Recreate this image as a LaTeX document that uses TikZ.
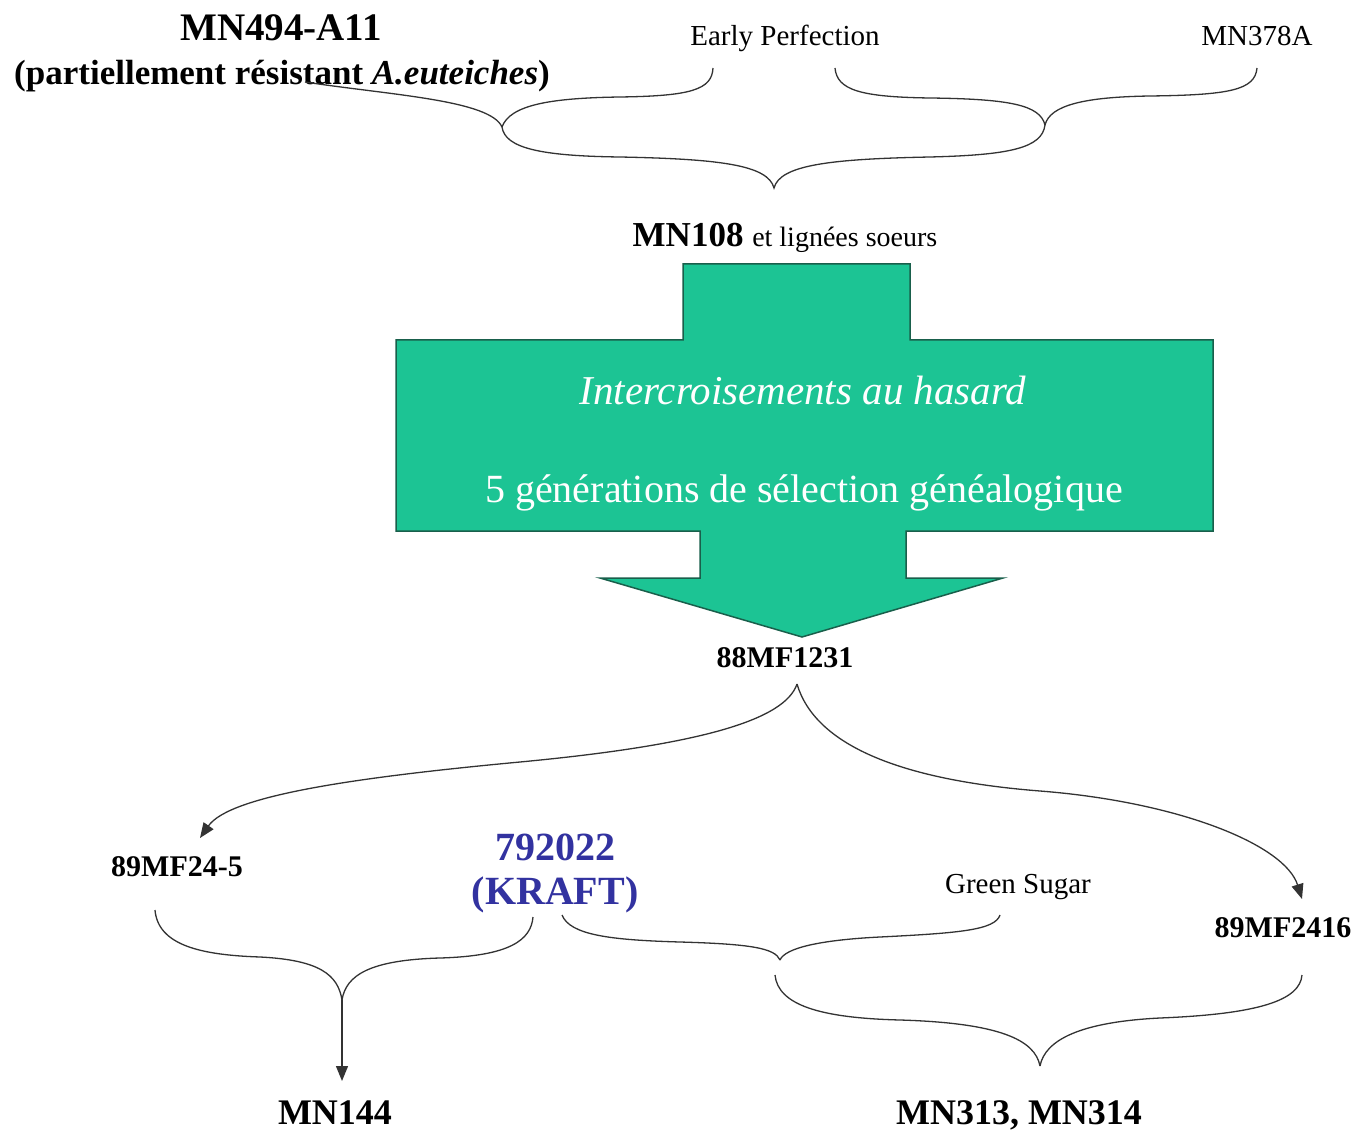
\documentclass[tikz,border=0pt]{standalone}
\usepackage{fontspec}
\setmainfont{Liberation Serif}
\usetikzlibrary{arrows.meta}
\definecolor{arrowgreen}{RGB}{28,196,148}
\definecolor{arrowedge}{RGB}{25,95,75}
\definecolor{kraftblue}{RGB}{50,50,160}
\newcommand{\fsz}[2]{\fontsize{#1}{#2}\selectfont}
\tikzset{
  lbl/.style={inner sep=0pt, anchor=base},
  brace/.style={draw=black!80, line width=1.3pt},
  arr/.style={brace, -{Triangle[length=15pt,width=12pt]}},
  bigarrow/.style={fill=arrowgreen, draw=arrowedge, line width=1.5pt, line join=miter},
}
\begin{document}
\begin{tikzpicture}[x=1pt,y=-1pt]
\useasboundingbox (0,0) rectangle (1358,1131);

% big green arrow
\draw[bigarrow] (683,264) -- (910,264) -- (910,340) -- (1213,340) -- (1213,531)
  -- (906,531) -- (906,578) -- (1003,578) -- (802,637) -- (600,578) -- (700,578)
  -- (700,531) -- (396,531) -- (396,340) -- (683,340) -- cycle;

% labels
\node[lbl, font=\fsz{39}{44}\bfseries] (mn494) at (281,41) {MN494-A11};
\node[lbl, font=\fsz{35}{40}\bfseries] (part) at (282,85) {(partiellement résistant \textit{A.euteiches})};
\node[lbl, font=\fsz{29}{34}] (early) at (785,46) {Early Perfection};
\node[lbl, font=\fsz{29}{34}] (mn378) at (1257,46) {MN378A};
\node[lbl] (mn108) at (785,247) {\fsz{35}{40}\bfseries MN108 \fsz{28}{32}\mdseries et lignées soeurs};
\node[lbl, font=\fsz{41}{46}\itshape, text=white] (inter) at (803,405) {Intercroisements au hasard};
\node[lbl, font=\fsz{40}{46}, text=white] (gen) at (804,502) {5 générations de sélection généalogique};
\node[lbl, font=\fsz{30}{35}\bfseries] (mf1231) at (785,667) {88MF1231};
\node[lbl, font=\fsz{30}{35}\bfseries] (mf245) at (177,876) {89MF24-5};
\node[lbl, font=\fsz{40}{46}\bfseries, text=kraftblue] (k1) at (555,860) {792022};
\node[lbl, font=\fsz{40}{46}\bfseries, text=kraftblue] (k2) at (555,904) {(KRAFT)};
\node[lbl, font=\fsz{29}{34}] (green) at (1018,893) {Green Sugar};
\node[lbl, font=\fsz{30}{35}\bfseries] (mf2416) at (1283,937) {89MF2416};
\node[lbl, font=\fsz{36}{42}\bfseries] (mn144) at (335,1124) {MN144};
\node[lbl, font=\fsz{36}{42}\bfseries] (mn313) at (1019,1124) {MN313, MN314};

% brace coordinates (top)
\coordinate (b1l) at (305,82);
\coordinate (b1t) at (502,127);
\coordinate (b1r) at (713,68);
\coordinate (b2l) at (835,68);
\coordinate (b2t) at (1045,125);
\coordinate (b2r) at (1257,68);
\coordinate (b3t) at (774,188);

\draw[brace] (b1l) .. controls (390,95) and (490,100) .. (b1t);
\draw[brace] (b1t) .. controls (510,105) and (550,98) .. (620,97)
  .. controls (690,96) and (712,90) .. (b1r);
\draw[brace] (b2l) .. controls (837,90) and (860,97) .. (930,98)
  .. controls (1010,99) and (1040,105) .. (b2t);
\draw[brace] (b2t) .. controls (1050,105) and (1085,97) .. (1150,96)
  .. controls (1230,95) and (1255,90) .. (b2r);
\draw[brace] (b1t) .. controls (505,148) and (540,156) .. (620,157)
  .. controls (720,159) and (768,165) .. (b3t)
  .. controls (780,165) and (830,159) .. (930,157)
  .. controls (1010,155) and (1042,148) .. (b2t);

% curved arrows from 88MF1231
\coordinate (c0) at (797,684);
\coordinate (cl) at (200,838);
\coordinate (cr) at (1302,899);
\draw[arr] (c0) .. controls (785,720) and (700,745) .. (520,762)
  .. controls (360,777) and (230,795) .. (cl);
\draw[arr] (c0) .. controls (815,745) and (900,780) .. (1040,791)
  .. controls (1180,802) and (1285,845) .. (cr);

% bottom-left brace
\coordinate (b4l) at (155,910);
\coordinate (b4t) at (342,1000);
\coordinate (b4r) at (533,917);
\coordinate (a4) at (342,1081);
\draw[brace] (b4l) .. controls (158,945) and (200,955) .. (260,957)
  .. controls (320,960) and (338,975) .. (b4t);
\draw[brace] (b4t) .. controls (346,975) and (370,960) .. (440,958)
  .. controls (510,956) and (531,940) .. (b4r);
\draw[arr] (b4t) -- (a4);

% KRAFT + Green Sugar brace
\coordinate (b5l) at (562,915);
\coordinate (b5t) at (780,960);
\coordinate (b5r) at (1000,915);
\draw[brace] (b5l) .. controls (570,935) and (610,940) .. (680,942)
  .. controls (750,944) and (775,948) .. (b5t);
\draw[brace] (b5t) .. controls (785,948) and (820,940) .. (880,937)
  .. controls (960,933) and (995,930) .. (b5r);

% lower right brace
\coordinate (b6l) at (775,975);
\coordinate (b6t) at (1040,1066);
\coordinate (b6r) at (1302,975);
\draw[brace] (b6l) .. controls (778,1005) and (820,1018) .. (900,1020)
  .. controls (1000,1023) and (1035,1040) .. (b6t);
\draw[brace] (b6t) .. controls (1045,1040) and (1080,1022) .. (1160,1018)
  .. controls (1260,1014) and (1300,1000) .. (b6r);
\end{tikzpicture}
\end{document}
